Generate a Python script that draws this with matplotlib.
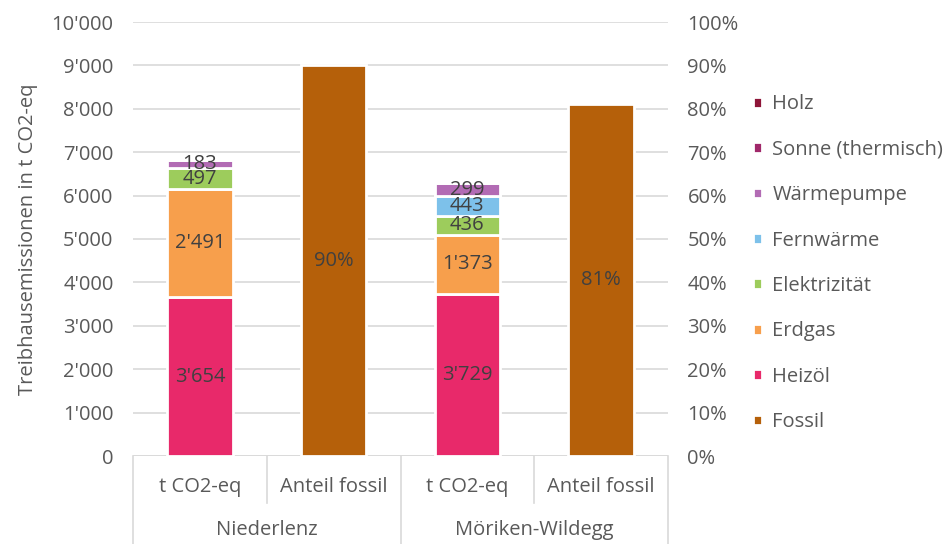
import matplotlib.pyplot as plt
import numpy as np

plt.rcParams['font.family'] = ['Open Sans', 'DejaVu Sans']

# ---------------- data ----------------
regions = ['Niederlenz', 'Möriken-Wildegg']
sub_labels = ['t CO2-eq', 'Anteil fossil']
carriers = ['Heizöl', 'Erdgas', 'Elektrizität', 'Fernwärme', 'Wärmepumpe',
            'Sonne (thermisch)', 'Holz']
heizoel = [3654, 3729]
erdgas = [2491, 1373]
elektrizitaet = [497, 436]
fernwaerme = [0, 443]
waermepumpe = [183, 299]
sonne = [0, 0]
holz = [0, 0]
fossil = [0.90, 0.81]

colors = {'Heizöl': '#E8296A', 'Erdgas': '#F79F4C', 'Elektrizität': '#9DCC5C',
          'Fernwärme': '#7DC1EA', 'Wärmepumpe': '#B26BB4',
          'Sonne (thermisch)': '#A0286A', 'Holz': '#8E1538'}
fossil_color = '#B5600A'
txt = '#595959'
grid = '#D9D9D9'
fs = 14.5

fig = plt.figure(figsize=(9.49, 5.44), dpi=100)
ax = fig.add_axes([133 / 949, 88 / 544, 535 / 949, 434 / 544])
ax2 = ax.twinx()

x_stack = np.array([0, 2])
x_fossil = np.array([1, 3])
w = 0.49

series = [heizoel, erdgas, elektrizitaet, fernwaerme, waermepumpe, sonne, holz]
bottom = np.zeros(2)
handles = {}
for name, vals in zip(carriers, series):
    vals = np.array(vals, dtype=float)
    b = ax.bar(x_stack, vals, w, bottom=bottom, color=colors[name],
               edgecolor='white', linewidth=2, zorder=3)
    handles[name] = b
    for xi, v, bt in zip(x_stack, vals, bottom):
        if v > 0:
            ax.text(xi, bt + v / 2, f'{int(v):,}'.replace(',', "'"),
                    ha='center', va='center', fontsize=fs, color='#404040', zorder=4)
    bottom += vals

fb = ax2.bar(x_fossil, fossil, w, color=fossil_color, edgecolor='white',
             linewidth=2, zorder=3)
for xi, v in zip(x_fossil, fossil):
    ax2.text(xi, v / 2, f'{v:.0%}', ha='center', va='center', fontsize=fs,
             color='#404040')

ax.set_xlim(-0.5, 3.5)
ax.set_ylim(0, 10000)
ax2.set_ylim(0, 1.0)
ax.set_yticks(np.arange(0, 10001, 1000))
ax.set_yticklabels([f'{v:,}'.replace(',', "'") for v in range(0, 10001, 1000)])
ax2.set_yticks(np.arange(0, 1.01, 0.1))
ax2.set_yticklabels([f'{int(round(v * 100))}%' for v in np.arange(0, 1.01, 0.1)])
ax.yaxis.grid(True, color=grid, linewidth=1.2, zorder=0)
ax.set_axisbelow(True)
for a in (ax, ax2):
    for s in a.spines.values():
        s.set_visible(False)
    a.tick_params(length=0, labelsize=fs, colors=txt)
ax.tick_params(axis='y', pad=14)
ax2.tick_params(axis='y', pad=14)
ax.set_xticks([])
ax.set_ylabel('Treibhausemissionen in t CO2-eq', fontsize=fs, color=txt, labelpad=10)

# two-level category axis
ax.axhline(0, color=grid, linewidth=1.2, zorder=2)
for xs in [-0.5, 1.5, 3.5]:
    ax.plot([xs, xs], [0, -2050], color=grid, lw=1.2, clip_on=False)
for xs in [0.5, 2.5]:
    ax.plot([xs, xs], [0, -1080], color=grid, lw=1.2, clip_on=False)
for i in range(4):
    ax.text(i, -710, sub_labels[i % 2], ha='center', va='center',
            fontsize=fs, color=txt)
for i, r in enumerate(regions):
    ax.text(0.5 + 2 * i, -1700, r, ha='center', va='center', fontsize=fs,
            color=txt)

leg_handles = [handles[c] for c in reversed(carriers)] + [fb]
leg_labels = list(reversed(carriers)) + ['Fossil']
fig.legend(leg_handles, leg_labels, loc='center left',
           bbox_to_anchor=(0.783, 0.516), frameon=False, fontsize=fs,
           labelcolor=txt, handlelength=0.45, handleheight=0.45,
           handletextpad=0.5, labelspacing=1.26, borderpad=0)

fig.savefig('out.png', dpi=100)
